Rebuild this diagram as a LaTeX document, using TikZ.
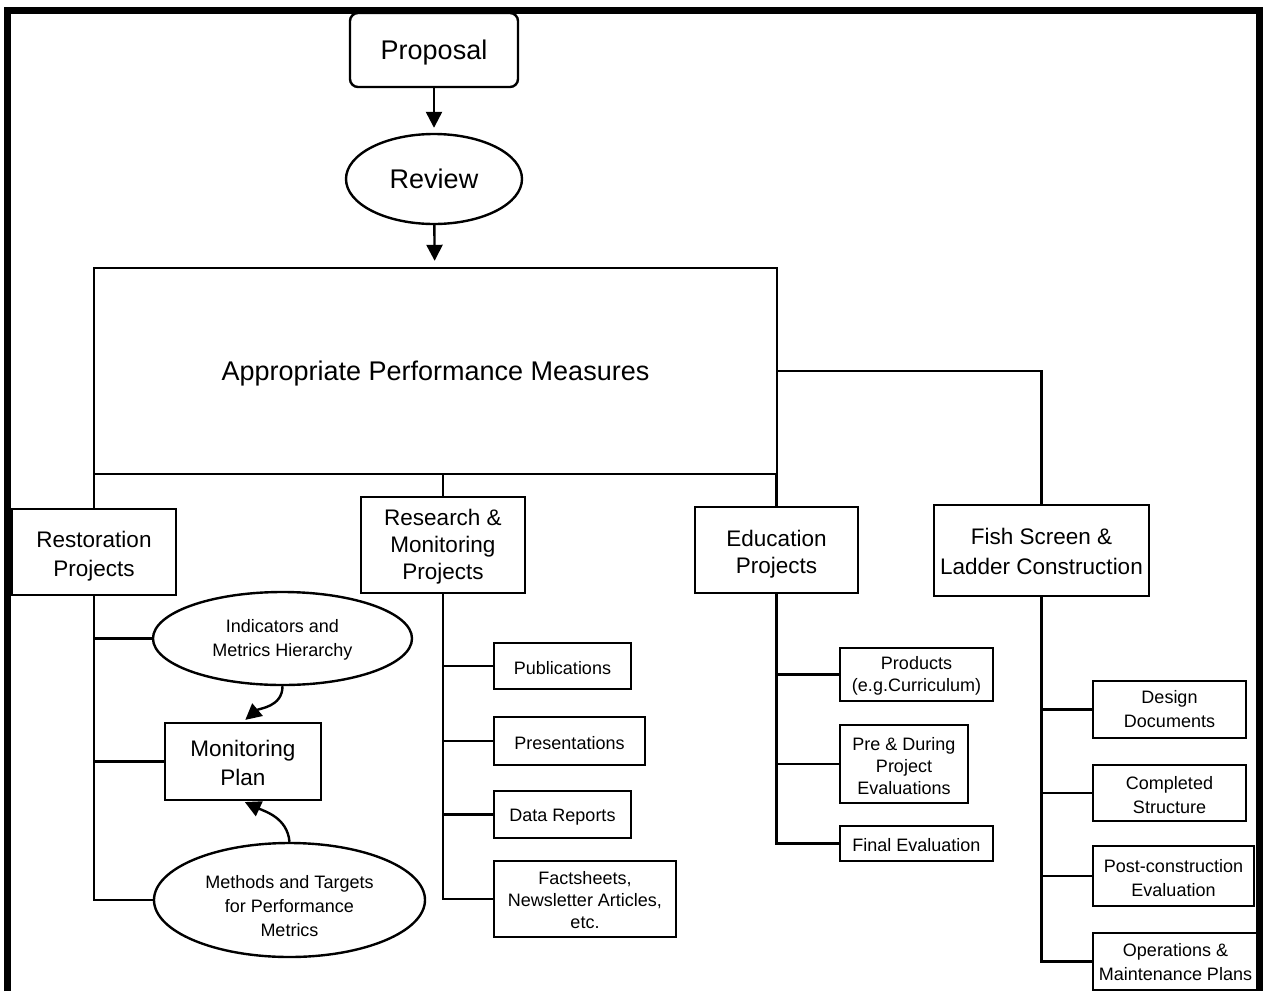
\documentclass[tikz,border=0pt]{standalone}
\usepackage{fontspec}
\setmainfont{Liberation Sans}
\usetikzlibrary{arrows.meta,shapes.geometric}
\newcommand{\lift}[1]{\rule{0pt}{#1}}
\begin{document}
\begin{tikzpicture}[x=1pt,y=-1pt,>={Triangle[length=16pt,width=16pt]},line width=2.4pt,
  box/.style={draw,rectangle,inner sep=0pt,align=center},
  oval/.style={draw,ellipse,inner sep=0pt,align=center},
  drop/.style={execute at begin node={\rule{0pt}{#1}}},
  big/.style={font=\fontsize{27}{32}\selectfont,text depth=0pt},
  mid/.style={font=\fontsize{22.5}{28.5}\selectfont},
  small/.style={font=\fontsize{18}{22}\selectfont},
  smallw/.style={font=\fontsize{18}{24}\selectfont}]
\useasboundingbox (0,0) rectangle (1264,991);
\draw[line width=7pt](7.5,991)--(7.5,10.5)--(1259.5,10.5)--(1259.5,991);

\node[draw,big,rounded corners=8pt,minimum width=168,minimum height=74](prop) at (434,50){Proposal};
\node[draw,ellipse,big,minimum width=176,minimum height=90](rev) at (434,179){Review};
\node[draw,big,minimum width=683,minimum height=206](apm) at (435.5,371){Appropriate Performance Measures};

\node[box,mid,font=\fontsize{22.5}{29}\selectfont,minimum width=164,minimum height=86](rest) at (94,552){\lift{24.5pt}Restoration\\Projects};
\node[box,mid,font=\fontsize{22.5}{27}\selectfont,minimum width=164,minimum height=96](res) at (443,545){\lift{20.5pt}Research \&\\Monitoring\\Projects};
\node[box,mid,font=\fontsize{22.5}{27}\selectfont,minimum width=163,minimum height=86](edu) at (776.5,550){\lift{24.5pt}Education\\Projects};
\node[box,mid,font=\fontsize{22.5}{30}\selectfont,minimum width=215,minimum height=91](fish) at (1041.5,550.5){\lift{18.5pt}Fish Screen \&\\Ladder Construction};

\node[oval,smallw,minimum width=259,minimum height=93](ind) at (282.5,638.5){\lift{15pt}Indicators and\\Metrics Hierarchy};
\node[box,mid,minimum width=156,minimum height=77](mon) at (243,761.5){\lift{19.5pt}Monitoring\\Plan};
\node[oval,smallw,minimum width=271,minimum height=114](meth) at (289.5,900){\lift{25pt}Methods and Targets\\for Performance\\Metrics};

\node[box,small,drop=17pt,minimum width=137,minimum height=46](pub) at (562.5,666){Publications};
\node[box,small,drop=17pt,minimum width=151,minimum height=48](pres) at (569.5,741){Presentations};
\node[box,small,drop=17pt,minimum width=137,minimum height=47](data) at (562.5,814.5){Data Reports};
\node[box,small,minimum width=182,minimum height=76](fact) at (585,899){\lift{15pt}Factsheets,\\Newsletter Articles,\\etc.};

\node[box,small,minimum width=153,minimum height=53](prod) at (916.5,674.5){\lift{16pt}Products\\(e.g.Curriculum)};
\node[box,small,minimum width=128,minimum height=78](pre) at (904,764){\lift{17pt}Pre \& During\\Project\\Evaluations};
\node[box,small,drop=17pt,minimum width=153,minimum height=35](final) at (916.5,843.5){Final Evaluation};

\node[box,smallw,minimum width=153,minimum height=57](design) at (1169.5,709.5){Design\\Documents};
\node[box,smallw,minimum width=153,minimum height=56](compl) at (1169.5,793){\lift{17pt}Completed\\Structure};
\node[box,smallw,minimum width=161,minimum height=60](post) at (1173.5,876){\lift{17pt}Post-construction\\Evaluation};
\node[box,smallw,minimum width=165,minimum height=57](ops) at (1175.5,961.5){\lift{15pt}Operations \&\\Maintenance Plans};

\draw[->,shorten >=5pt](prop)--(rev);
\draw[->,shorten >=6pt](rev)--(apm);
\draw(rest.north)--(rest.north |- apm.south);
\draw(res.north)--(res.north |- apm.south);
\draw(edu.north)--(edu.north |- apm.south);
\draw(apm.east)-|(fish.north);

\draw(rest.south)|-(meth.west);
\draw(rest.south |- ind.west)--(ind.west);
\draw(rest.south |- mon.west)--(mon.west);
\draw[->,shorten >=3pt](ind.south)to[out=-90,in=40](mon.north);
\draw[->,shorten >=2pt](meth.north)to[out=95,in=-25](mon.south);

\draw(res.south)|-(fact.west);
\foreach \n in {pub,pres,data}
  \draw(res.south |- \n.west)--(\n.west);
\draw(edu.south)|-(final.west);
\foreach \n in {prod,pre}
  \draw(edu.south |- \n.west)--(\n.west);
\draw(fish.south)|-(ops.west);
\foreach \n in {design,compl,post}
  \draw(fish.south |- \n.west)--(\n.west);
\end{tikzpicture}
\end{document}
